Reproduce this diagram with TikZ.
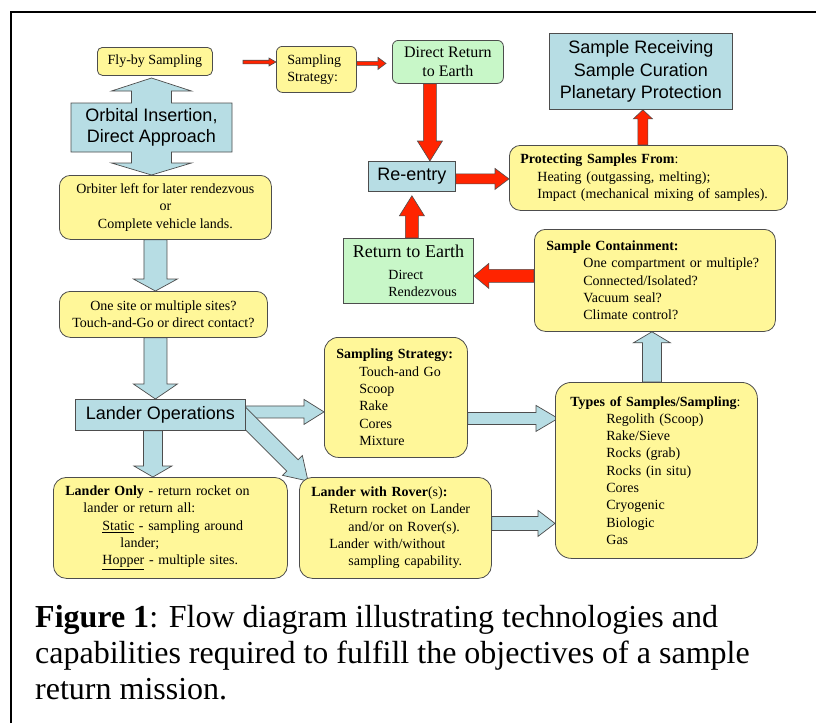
\documentclass[tikz,border=0pt]{standalone}
\usepackage{fontspec}
\setmainfont{Liberation Serif}
\newfontfamily\arl{Liberation Sans}
\usetikzlibrary{calc}
\pgfdeclarelayer{back}
\pgfdeclarelayer{bg}
\pgfsetlayers{back,bg,main}
\definecolor{yel}{HTML}{FFF799}
\definecolor{blu}{HTML}{B7DDE4}
\definecolor{grn}{HTML}{C8F7C8}
\definecolor{redar}{HTML}{FF2400}
\definecolor{edge}{HTML}{4D4D4D}
\newcommand\fs[2]{\fontsize{#1}{#2}\selectfont}
% #1 style, #2 start, #3 tip, #4 half shaft, #5 half head, #6 head length
\newcommand\blockarrow[6]{%
  \coordinate (ba-s) at #2;
  \coordinate (ba-e) at #3;
  \coordinate (ba-h) at ($(ba-e)!#6!(ba-s)$);
  \filldraw[#1] ($(ba-s)!#4!90:(ba-e)$) -- ($(ba-h)!#4!90:(ba-e)$) -- ($(ba-h)!#5!90:(ba-e)$) -- (ba-e) -- ($(ba-h)!#5!-90:(ba-e)$) -- ($(ba-h)!#4!-90:(ba-e)$) -- ($(ba-s)!#4!-90:(ba-e)$) -- cycle;
}
\tikzset{
  every node/.style={inner sep=0pt},
  box/.style 2 args={minimum width=#1, minimum height=#2},
  yelbox/.style={draw=edge, fill=yel, line width=0.8pt, rounded corners=11pt, anchor=north west, font=\fs{14}{17.3}},
  grnbox/.style={draw=edge, fill=grn, line width=0.8pt, anchor=north west},
  blubox/.style={draw=edge, fill=blu, line width=0.8pt, anchor=north west, font=\arl\fs{18}{22.5}},
  bluearrow/.style={draw=edge, fill=blu, line width=0.7pt},
  redarrow/.style={draw=edge, fill=redar, line width=0.6pt},
  captext/.style={anchor=base west, font=\fs{32}{36}},
}
\begin{document}
\begin{tikzpicture}[x=1pt,y=-1pt]
\useasboundingbox (0,0) rectangle (816,723);
\begin{pgfonlayer}{back}
  \fill[white] (0,0) rectangle (816,723);
\end{pgfonlayer}

% ---- nodes ----
\node[yelbox, box={115pt}{28pt}, rounded corners=5pt] (flyby) at (97,47) {Fly-by Sampling};
\node[yelbox, box={80pt}{46pt}, rounded corners=6pt, align=left, text width=58pt, inner xsep=11pt] (smallstrat) at (276,46) {Sampling\\Strategy:};
\node[grnbox, box={111pt}{43pt}, rounded corners=6pt, align=center, font=\fs{16}{19}] (direct) at (392,40) {Direct Return\\to Earth};
\node[blubox, box={183pt}{76pt}, align=center] (receive) at (549,33) {Sample Receiving\\Sample Curation\\Planetary Protection};
\node[font=\arl\fs{18}{21}, align=center, minimum width=161pt, minimum height=49pt] (orbit) at (151.5,127.5) {Orbital Insertion,\\Direct Approach};
\node[yelbox, box={212pt}{64pt}, align=center] (orbiter) at (59,175) {Orbiter left for later rendezvous\\or\\Complete vehicle lands.};
\node[blubox, box={87pt}{30pt}] (reentry) at (368,161) {Re-entry};
\node[yelbox, box={278pt}{65pt}, align=left, text width=256pt, inner xsep=11pt] (protect) at (509,145)
  {\textbf{Protecting Samples From}:\\
   \hspace*{17pt}Heating (outgassing, melting);\\
   \hspace*{17pt}Impact (mechanical mixing of samples).};
\node[grnbox, box={130pt}{65pt}, align=left, text width=130pt, font=\fs{14}{17.3}] (rte) at (343,238)
  {\makebox[130pt][c]{\fs{18}{21}Return to Earth}\\[4pt]
   \hspace*{45pt}Direct\\
   \hspace*{45pt}Rendezvous};
\node[yelbox, box={241pt}{102pt}, align=left, text width=217pt, inner xsep=12pt] (contain) at (534,229)
  {\textbf{Sample Containment:}\\
   \hspace*{37pt}One compartment or multiple?\\
   \hspace*{37pt}Connected/Isolated?\\
   \hspace*{37pt}Vacuum seal?\\
   \hspace*{37pt}Climate control?};
\node[yelbox, box={208pt}{46pt}, align=center] (onesite) at (59,291) {One site or multiple sites?\\Touch-and-Go or direct contact?};
\node[yelbox, box={143pt}{120pt}, align=left, text width=119pt, inner xsep=12pt, rounded corners=14pt] (strat) at (324,337)
  {\textbf{Sampling Strategy:}\\
   \hspace*{23pt}Touch-and Go\\
   \hspace*{23pt}Scoop\\
   \hspace*{23pt}Rake\\
   \hspace*{23pt}Cores\\
   \hspace*{23pt}Mixture};
\node[yelbox, box={202pt}{176pt}, align=left, text width=172pt, inner xsep=15pt, rounded corners=16pt] (types) at (555,382)
  {\textbf{Types of Samples/Sampling}:\\
   \hspace*{36pt}Regolith (Scoop)\\
   \hspace*{36pt}Rake/Sieve\\
   \hspace*{36pt}Rocks (grab)\\
   \hspace*{36pt}Rocks (in situ)\\
   \hspace*{36pt}Cores\\
   \hspace*{36pt}Cryogenic\\
   \hspace*{36pt}Biologic\\
   \hspace*{36pt}Gas};
\node[blubox, box={170pt}{31pt}] (landerops) at (75,399) {Lander Operations};
\node[yelbox, box={234pt}{101pt}, align=left, text width=210pt, inner xsep=12pt, rounded corners=13pt] (landeronly) at (53,477)
  {\textbf{Lander Only} - return rocket on\\
   \hspace*{18pt}lander or return all:\\
   \hspace*{37pt}\underline{Static} - sampling around\\
   \hspace*{55pt}lander;\\
   \hspace*{37pt}\underline{Hopper} - multiple sites.};
\node[yelbox, box={192pt}{101pt}, align=left, text width=168pt, inner xsep=12pt, rounded corners=13pt] (rover) at (299,477)
  {\textbf{Lander with Rover}(s)\textbf{:}\\
   \hspace*{18pt}Return rocket on Lander\\
   \hspace*{37pt}and/or on Rover(s).\\
   \hspace*{18pt}Lander with/without\\
   \hspace*{37pt}sampling capability.};

% ---- caption ----
\node[captext] (cap1) at (35,627) {\textbf{Figure 1}: Flow diagram illustrating technologies and};
\node[captext] (cap2) at (35,663) {capabilities required to fulfill the objectives of a sample};
\node[captext] (cap3) at (35,699) {return mission.};

% ---- frame ----
\draw[line width=2pt] (11,723) -- (11,12) -- (816,12);

% ---- connectors (behind boxes) ----
\begin{pgfonlayer}{bg}
  \begin{scope}[shift={(orbit.center)}]
    \filldraw[bluearrow] (-80.5,-24.5) -- (-20,-24.5) -- (-20,-36.5) -- (-40,-36.5) -- (0,-49.5) -- (40,-36.5) -- (20,-36.5) -- (20,-24.5) -- (80.5,-24.5) -- (80.5,24.5) -- (20,24.5) -- (20,35.5) -- (40,35.5) -- (0,47.5) -- (-40,35.5) -- (-20,35.5) -- (-20,24.5) -- (-80.5,24.5) -- cycle;
  \end{scope}
  % small red arrows
  \coordinate (fa) at (243,62);
  \blockarrow{redarrow}{(fa)}{(smallstrat.west |- fa)}{1.8pt}{4pt}{7pt}
  \coordinate (a2s) at ([yshift=6pt]smallstrat.east);
  \blockarrow{redarrow}{(a2s)}{([xshift=-6pt]direct.west |- a2s)}{2pt}{6pt}{8pt}
  % red arrows
  \coordinate (a3s) at ([xshift=-18pt]direct.south);
  \blockarrow{redarrow}{(a3s)}{(a3s |- reentry.north)}{6.5pt}{12.5pt}{20pt}
  \coordinate (a4s) at (reentry.south |- rte.north);
  \blockarrow{redarrow}{(a4s)}{([yshift=-4pt]reentry.south)}{6.5pt}{12.5pt}{20pt}
  \coordinate (a5s) at ([yshift=-2.5pt]reentry.east);
  \blockarrow{redarrow}{(a5s)}{(protect.west |- a5s)}{5pt}{10.5pt}{14pt}
  \coordinate (a6s) at ([xshift=2pt]receive.south |- protect.north);
  \blockarrow{redarrow}{(a6s)}{([xshift=2pt]receive.south)}{5pt}{9.5pt}{9pt}
  \coordinate (a7s) at ([yshift=4.5pt]contain.west);
  \blockarrow{redarrow}{(a7s)}{(rte.east |- a7s)}{6.5pt}{12.5pt}{15pt}
  % blue arrows
  \coordinate (b1s) at ([xshift=-10pt]orbiter.south);
  \blockarrow{bluearrow}{(b1s)}{(b1s |- onesite.north)}{11.5pt}{22pt}{12pt}
  \coordinate (b2s) at ([xshift=-8pt]onesite.south);
  \blockarrow{bluearrow}{(b2s)}{(b2s |- landerops.north)}{11.5pt}{22pt}{15pt}
  \coordinate (b3s) at ([xshift=-7.5pt]landerops.south);
  \blockarrow{bluearrow}{(b3s)}{(b3s |- landeronly.north)}{9.5pt}{19pt}{11pt}
  \coordinate (b4s) at ([yshift=3pt]landerops.east);
  \blockarrow{bluearrow}{(b4s)}{(strat.west |- b4s)}{6pt}{12.5pt}{20pt}
  \coordinate (b5s) at ([shift={(-9pt,21pt)}]landerops.south east);
  \blockarrow{bluearrow}{(b5s)}{([shift={(9pt,-4pt)}]rover.north west)}{8pt}{14pt}{22pt}
  \coordinate (b6s) at ([yshift=-21pt]strat.east);
  \blockarrow{bluearrow}{(b6s)}{([xshift=3pt]types.west |- b6s)}{6pt}{13pt}{22pt}
  \coordinate (b7s) at ([yshift=4.5pt]rover.east);
  \blockarrow{bluearrow}{(b7s)}{(types.west |- b7s)}{7pt}{13pt}{17pt}
  \coordinate (b8s) at ([xshift=-4.5pt]types.north);
  \blockarrow{bluearrow}{(b8s)}{(b8s |- contain.south)}{9.5pt}{18.5pt}{11pt}
\end{pgfonlayer}
\end{tikzpicture}
\end{document}
